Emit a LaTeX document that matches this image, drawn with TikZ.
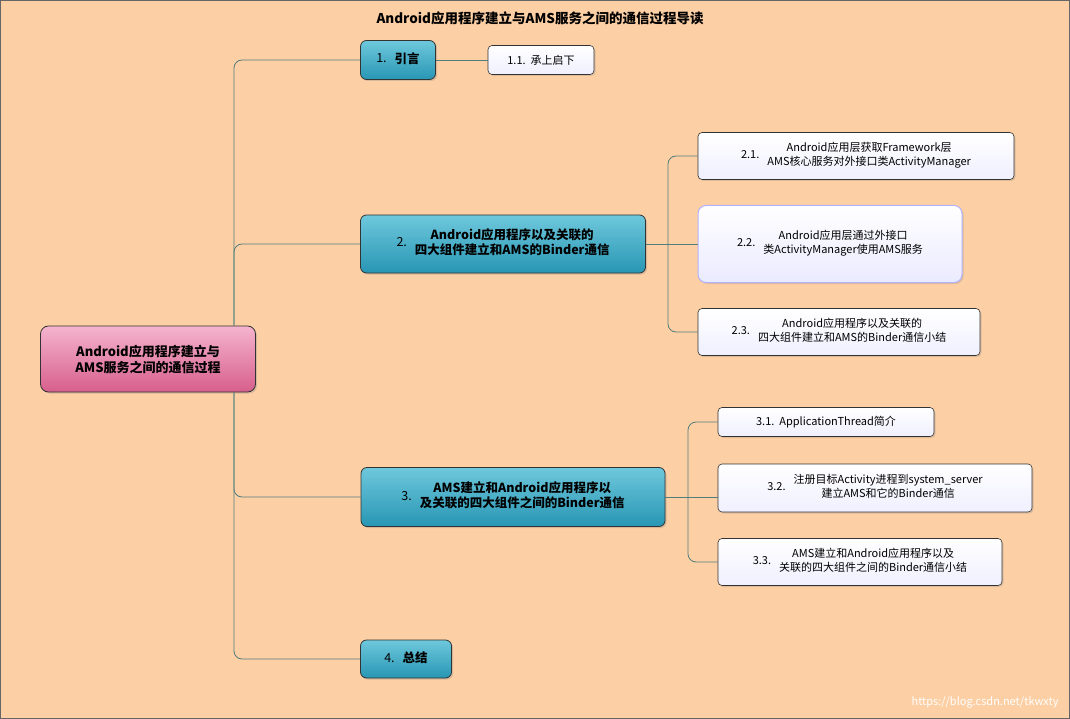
\documentclass[tikz,border=0pt]{standalone}
\usepackage{fontspec}
\setmainfont{Noto Sans CJK SC}
\usetikzlibrary{shadows}
\definecolor{bg}{RGB}{253,207,164}
\definecolor{ln}{RGB}{80,125,125}
\definecolor{tealA}{RGB}{40,150,180}
\definecolor{tealB}{RGB}{110,200,220}
\definecolor{pinkA}{RGB}{215,95,140}
\definecolor{pinkB}{RGB}{245,180,205}
\tikzset{
 conn/.style={draw=ln,line width=0.8pt,rounded corners=8pt},
 main/.style={draw=black!80,line width=0.8pt,rounded corners=6pt,top color=tealB,bottom color=tealA,font=\fontsize{12.5}{15}\selectfont\bfseries,align=center,inner sep=3pt,drop shadow={opacity=0.3,shadow xshift=1.5pt,shadow yshift=-1.5pt}},
 sub/.style={draw=black!80,line width=0.6pt,rounded corners=4pt,top color=white,bottom color=blue!6,font=\fontsize{11}{13.5}\selectfont,align=center,inner sep=3pt,drop shadow={opacity=0.25,shadow xshift=1.5pt,shadow yshift=-1.5pt}},
}
\newcommand{\numtxt}[2]{\begin{tabular}{@{}l@{\hspace{8pt}}c@{}}#1&\begin{tabular}{@{}c@{}}#2\end{tabular}\end{tabular}}
\begin{document}
\begin{tikzpicture}[x=1pt,y=-1pt]
\fill[bg] (0,0) rectangle (1070,719);
\draw[black!60] (0.5,0.5) rectangle (1069.5,718.5);
\useasboundingbox (0,0) rectangle (1070,719);
\node[font=\fontsize{13.5}{15}\selectfont\bfseries] (title) at (540,18) {Android应用程序建立与AMS服务之间的通信过程导读};
\node[main,top color=pinkB,bottom color=pinkA,minimum width=215pt,minimum height=66pt,rounded corners=8pt,font=\fontsize{13}{16}\selectfont\bfseries] (root) at (148,359) {Android应用程序建立与\\AMS服务之间的通信过程};
\node[main,minimum width=75pt,minimum height=39pt] (l1) at (398,60) {\numtxt{{\mdseries 1.}}{引言}};
\node[main,minimum width=285pt,minimum height=58pt] (l2) at (503,244) {\numtxt{{\mdseries 2.}}{Android应用程序以及关联的\\四大组件建立和AMS的Binder通信}};
\node[main,minimum width=304pt,minimum height=59pt] (l3) at (513,497) {\numtxt{{\mdseries 3.}}{AMS建立和Android应用程序以\\及关联的四大组件之间的Binder通信}};
\node[main,minimum width=91pt,minimum height=38pt] (l4) at (406,659) {\numtxt{{\mdseries 4.}}{总结}};
\node[sub,minimum width=106pt,minimum height=29pt] (s11) at (541,60) {1.1.\ \ 承上启下};
\node[sub,minimum width=316pt,minimum height=47pt] (s21) at (856,156) {\numtxt{2.1.}{Android应用层获取Framework层\\AMS核心服务对外接口类ActivityManager}};
\node[sub,draw=blue!30,line width=1pt,rounded corners=8pt,top color=white,bottom color=blue!8,minimum width=264pt,minimum height=77pt] (s22) at (830,244) {\numtxt{2.2.}{Android应用层通过外接口\\类ActivityManager使用AMS服务}};
\node[sub,minimum width=282pt,minimum height=47pt] (s23) at (839,332) {\numtxt{2.3.}{Android应用程序以及关联的\\四大组件建立和AMS的Binder通信小结}};
\node[sub,minimum width=216pt,minimum height=29pt] (s31) at (826,422) {3.1.\ \ ApplicationThread简介};
\node[sub,minimum width=314pt,minimum height=48pt] (s32) at (875,488) {\numtxt{3.2.}{注册目标Activity进程到system\_server\\建立AMS和它的Binder通信}};
\node[sub,minimum width=284pt,minimum height=47pt] (s33) at (860,562) {\numtxt{3.3.}{AMS建立和Android应用程序以及\\关联的四大组件之间的Binder通信小结}};
\coordinate (t0) at (234,0);
\coordinate (t2) at (668,0);
\coordinate (t3) at (688,0);
\draw[conn] (root.north -| t0) |- (l1.west);
\draw[conn] (root.north -| t0) |- (l2.west);
\draw[conn] (root.south -| t0) |- (l3.west);
\draw[conn] (root.south -| t0) |- (l4.west);
\draw[conn] (l1.east) -- (s11.west);
\draw[conn] (l2.east) -- (s22.west);
\draw[conn] (l2.east -| t2) |- (s21.west);
\draw[conn] (l2.east -| t2) |- (s23.west);
\draw[conn] (l3.east) -- (l3.east -| s32.west);
\draw[conn] (l3.east -| t3) |- (s31.west);
\draw[conn] (l3.east -| t3) |- (s33.west);
\node[font=\fontsize{11}{13}\selectfont,text=white,anchor=south east] (wm) at (1062,712) {https://blog.csdn.net/tkwxty};
\end{tikzpicture}
\end{document}
